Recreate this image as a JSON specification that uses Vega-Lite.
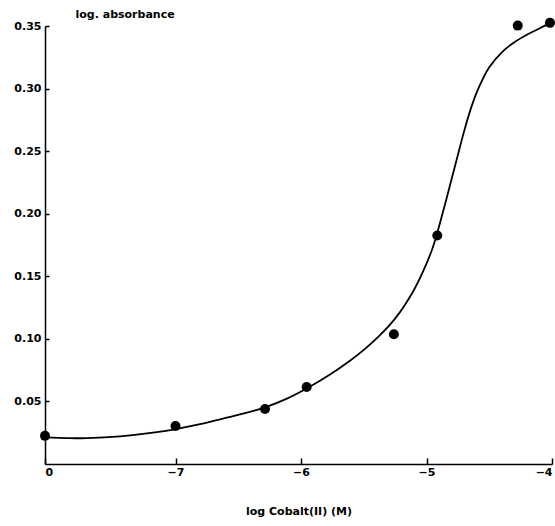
{
  "$schema": "https://vega.github.io/schema/vega-lite/v6.json",
  "width": 507,
  "height": 438,
  "autosize": "none",
  "padding": {"left": 45, "top": 26, "right": 3, "bottom": 62},
  "background": "white",
  "config": {
    "view": {"stroke": null},
    "axis": {
      "grid": false,
      "domainColor": "black",
      "domainWidth": 1.5,
      "tickColor": "black",
      "tickWidth": 1.5,
      "labelFont": "DejaVu Sans",
      "labelFontWeight": "bold",
      "labelFontSize": 11,
      "labelColor": "black",
      "titleFont": "DejaVu Sans",
      "titleFontWeight": "bold",
      "titleFontSize": 11,
      "titleColor": "black"
    }
  },
  "datasets": {
    "points": [
      {"x": -8.04, "y": 0.0225},
      {"x": -7.0, "y": 0.0303},
      {"x": -6.287, "y": 0.044},
      {"x": -5.955, "y": 0.0615},
      {"x": -5.26, "y": 0.1037},
      {"x": -4.914, "y": 0.1826},
      {"x": -4.273, "y": 0.3503},
      {"x": -4.016, "y": 0.3525}
    ],
    "curve": [
      {"x": -8.04, "y": 0.0213},
      {"x": -7.85, "y": 0.0206},
      {"x": -7.705, "y": 0.0207},
      {"x": -7.442, "y": 0.0221},
      {"x": -7.179, "y": 0.0250},
      {"x": -6.988, "y": 0.0281},
      {"x": -6.805, "y": 0.0318},
      {"x": -6.67, "y": 0.0350},
      {"x": -6.486, "y": 0.0396},
      {"x": -6.287, "y": 0.0452},
      {"x": -6.112, "y": 0.0522},
      {"x": -5.952, "y": 0.0605},
      {"x": -5.769, "y": 0.0715},
      {"x": -5.61, "y": 0.0825},
      {"x": -5.49, "y": 0.0920},
      {"x": -5.371, "y": 0.1029},
      {"x": -5.238, "y": 0.1178},
      {"x": -5.108, "y": 0.1377},
      {"x": -5.028, "y": 0.1537},
      {"x": -4.948, "y": 0.1736},
      {"x": -4.869, "y": 0.2014},
      {"x": -4.80, "y": 0.2277},
      {"x": -4.75, "y": 0.2470},
      {"x": -4.70, "y": 0.2660},
      {"x": -4.65, "y": 0.2830},
      {"x": -4.60, "y": 0.2970},
      {"x": -4.55, "y": 0.3080},
      {"x": -4.50, "y": 0.3170},
      {"x": -4.40, "y": 0.3290},
      {"x": -4.30, "y": 0.3370},
      {"x": -4.20, "y": 0.3430},
      {"x": -4.10, "y": 0.3480},
      {"x": -4.016, "y": 0.3525}
    ]
  },
  "encoding": {
    "x": {
      "field": "x",
      "type": "quantitative",
      "scale": {"domain": [-8.04, -4], "nice": false, "zero": false},
      "axis": {
        "title": "log Cobalt(II) (M)",
        "values": [-8.04, -7, -6, -5, -4],
        "labelExpr": "datum.value < -7.5 ? '0' : format(datum.value, 'd')",
        "tickSize": -6,
        "labelPadding": 8,
        "titlePadding": 28
      }
    },
    "y": {
      "field": "y",
      "type": "quantitative",
      "scale": {"domain": [0, 0.35], "nice": false},
      "axis": {
        "title": "log. absorbance",
        "values": [0.05, 0.1, 0.15, 0.2, 0.25, 0.3, 0.35],
        "format": ".2f",
        "tickSize": -4,
        "labelPadding": 8,
        "titleAngle": 0,
        "titleAlign": "left",
        "titleBaseline": "alphabetic",
        "titleX": 30,
        "titleY": -9
      }
    }
  },
  "layer": [
    {
      "data": {"name": "curve"},
      "mark": {"type": "line", "interpolate": "catmull-rom", "color": "black", "strokeWidth": 1.8, "clip": false}
    },
    {
      "data": {"name": "points"},
      "mark": {"type": "point", "filled": true, "color": "black", "opacity": 1, "size": 100, "clip": false}
    }
  ]
}
